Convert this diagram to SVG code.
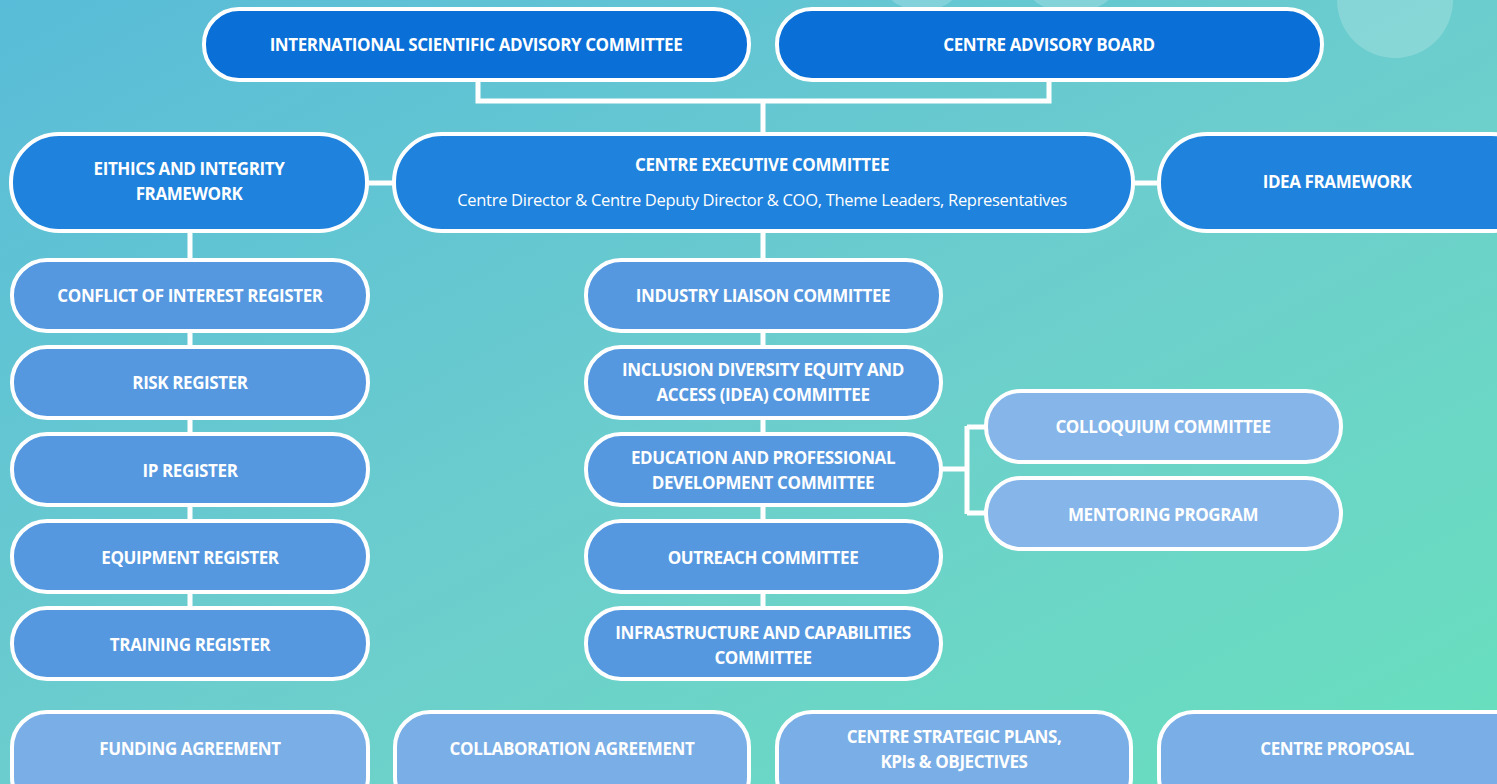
<svg xmlns="http://www.w3.org/2000/svg" width="1497" height="784" viewBox="0 0 1497 784">
<defs>
<linearGradient id="bg" x1="0" y1="0" x2="1" y2="1">
<stop offset="0" stop-color="#59bcd8"/>
<stop offset="0.55" stop-color="#6dcfcc"/>
<stop offset="1" stop-color="#68e0bd"/>
</linearGradient>
<style>
.n rect{stroke:#fff;stroke-width:4}
.c1{fill:#0a6fd6}
.c2{fill:#1f82dc}
.c3{fill:#5598e0}
.c4{fill:#86b5e9}
.c5{fill:#7aaee6}
text{font-family:"Open Sans","Liberation Sans",sans-serif;font-weight:700;fill:#fff;text-anchor:middle;font-size:17px;letter-spacing:-0.4px}
text.sub{font-weight:400;font-size:16.5px;letter-spacing:-0.3px}
.conn{fill:none;stroke:#fff;stroke-width:5}
</style>
</defs>
<rect width="1497" height="784" fill="url(#bg)"/>
<g id="decor" fill="#ffffff" fill-opacity="0.2">
<circle cx="1395" cy="0" r="58"/>
<ellipse cx="922" cy="-10" rx="35" ry="20"/>
<ellipse cx="1071" cy="-10" rx="42" ry="22"/>
</g>
<g id="connectors" class="conn">
<path d="M478 80 V101 H1049 V80"/>
<path d="M763 101 V134"/>
<path d="M367 183 H394"/>
<path d="M1133 183 H1159"/>
<path d="M190 231 V608"/>
<path d="M763 231 V608"/>
<path d="M941 469 H967 M967 426 V514 M967 427 H986 M967 513 H986"/>
</g>
<g id="isac" class="n"><rect class="c1" x="204" y="9" width="545" height="71" rx="35"/><text x="476" y="51">INTERNATIONAL SCIENTIFIC ADVISORY COMMITTEE</text></g>
<g id="cab" class="n"><rect class="c1" x="777" y="9" width="545" height="71" rx="35"/><text x="1049" y="51">CENTRE ADVISORY BOARD</text></g>
<g id="ethics" class="n"><rect class="c2" x="11" y="134" width="356" height="97" rx="48"/><text x="189" y="175">EITHICS AND INTEGRITY</text><text x="189" y="200">FRAMEWORK</text></g>
<g id="exec" class="n"><rect class="c2" x="394" y="134" width="739" height="97" rx="48"/><text x="762" y="171">CENTRE EXECUTIVE COMMITTEE</text><text class="sub" x="762" y="206">Centre Director &amp; Centre Deputy Director &amp; COO, Theme Leaders, Representatives</text></g>
<g id="idea" class="n"><rect class="c2" x="1159" y="134" width="380" height="97" rx="48"/><text x="1337" y="188">IDEA FRAMEWORK</text></g>
<g id="coi" class="n"><rect class="c3" x="12" y="260" width="356" height="71" rx="35"/><text x="190" y="302">CONFLICT OF INTEREST REGISTER</text></g>
<g id="risk" class="n"><rect class="c3" x="12" y="347" width="356" height="71" rx="35"/><text x="190" y="389">RISK REGISTER</text></g>
<g id="ip" class="n"><rect class="c3" x="12" y="434" width="356" height="71" rx="35"/><text x="190" y="477">IP REGISTER</text></g>
<g id="equip" class="n"><rect class="c3" x="12" y="521" width="356" height="71" rx="35"/><text x="190" y="564">EQUIPMENT REGISTER</text></g>
<g id="training" class="n"><rect class="c3" x="12" y="608" width="356" height="71" rx="35"/><text x="190" y="651">TRAINING REGISTER</text></g>
<g id="industry" class="n"><rect class="c3" x="586" y="260" width="355" height="71" rx="35"/><text x="763" y="302">INDUSTRY LIAISON COMMITTEE</text></g>
<g id="inclusion" class="n"><rect class="c3" x="586" y="347" width="355" height="71" rx="35"/><text x="763" y="376">INCLUSION DIVERSITY EQUITY AND</text><text x="763" y="401">ACCESS (IDEA) COMMITTEE</text></g>
<g id="education" class="n"><rect class="c3" x="586" y="434" width="355" height="71" rx="35"/><text x="763" y="464">EDUCATION AND PROFESSIONAL</text><text x="763" y="489">DEVELOPMENT COMMITTEE</text></g>
<g id="outreach" class="n"><rect class="c3" x="586" y="521" width="355" height="71" rx="35"/><text x="763" y="564">OUTREACH COMMITTEE</text></g>
<g id="infra" class="n"><rect class="c3" x="586" y="608" width="355" height="71" rx="35"/><text x="763" y="639">INFRASTRUCTURE AND CAPABILITIES</text><text x="763" y="664">COMMITTEE</text></g>
<g id="colloquium" class="n"><rect class="c4" x="986" y="391" width="355" height="71" rx="35"/><text x="1163" y="433">COLLOQUIUM COMMITTEE</text></g>
<g id="mentoring" class="n"><rect class="c4" x="986" y="478" width="355" height="71" rx="35"/><text x="1163" y="521">MENTORING PROGRAM</text></g>
<g id="funding" class="n"><rect class="c5" x="12" y="712" width="356" height="100" rx="35"/><text x="190" y="755">FUNDING AGREEMENT</text></g>
<g id="collab" class="n"><rect class="c5" x="395" y="712" width="354" height="100" rx="35"/><text x="572" y="755">COLLABORATION AGREEMENT</text></g>
<g id="strategic" class="n"><rect class="c5" x="777" y="712" width="354" height="100" rx="35"/><text x="954" y="743">CENTRE STRATEGIC PLANS,</text><text x="954" y="768">KPIs &amp; OBJECTIVES</text></g>
<g id="proposal" class="n"><rect class="c5" x="1159" y="712" width="380" height="100" rx="35"/><text x="1337" y="755">CENTRE PROPOSAL</text></g>
</svg>
